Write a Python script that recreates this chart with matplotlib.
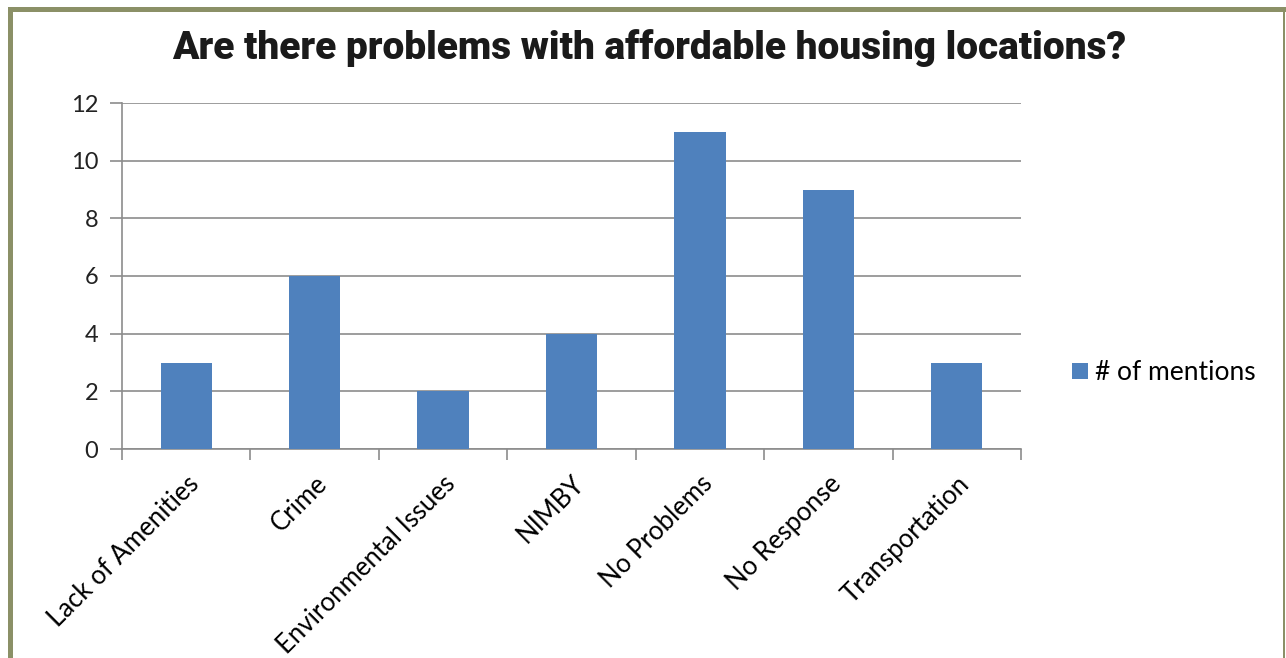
import matplotlib.pyplot as plt
from matplotlib.patches import Rectangle

categories = ["Lack of Amenities", "Crime", "Environmental Issues", "NIMBY",
              "No Problems", "No Response", "Transportation"]
mentions = [3, 6, 2, 4, 11, 9, 3]
yticks = [0, 2, 4, 6, 8, 10, 12]
series_name = "# of mentions"

bar_color = "#4f81bd"
grid_color = "#8c8c8c"
frame_color = "#8b9067"
label_font = ["Lato", "DejaVu Sans"]

fig = plt.figure(figsize=(12.86, 6.58), dpi=100)
fig.patch.set_facecolor("white")

# olive frame around the panel (left, top, right edges)
fig.add_artist(Rectangle((8 / 1286, 0), 5 / 1286, (658 - 8) / 658,
                         transform=fig.transFigure, color=frame_color, lw=0))
fig.add_artist(Rectangle((8 / 1286, (658 - 12) / 658), (1286 - 8) / 1286, 5 / 658,
                         transform=fig.transFigure, color=frame_color, lw=0))
fig.add_artist(Rectangle((1283 / 1286, 0), 2 / 1286, (658 - 8) / 658,
                         transform=fig.transFigure, color=frame_color, lw=0))

ax = fig.add_axes([122 / 1286, (658 - 449) / 658, (1021 - 122) / 1286, (449 - 103) / 658])

x = range(len(categories))
ax.bar(x, mentions, width=0.4, color=bar_color, zorder=3, label=series_name)
ax.set_xlim(-0.5, len(categories) - 0.5)
ax.set_ylim(0, 12)
ax.set_yticks(yticks)
ax.set_yticklabels([str(v) for v in yticks], fontsize=17, family=label_font,
                   color="#222222")
ax.yaxis.grid(True, color=grid_color, lw=1.2, zorder=0)

for s in ["top", "right"]:
    ax.spines[s].set_visible(False)
for s in ["left", "bottom"]:
    ax.spines[s].set_color(grid_color)
    ax.spines[s].set_linewidth(1.2)

ax.tick_params(axis="y", length=9, width=1.2, color=grid_color, pad=8)
# category boundaries carry the x tick marks
ax.set_xticks([i - 0.5 for i in range(len(categories) + 1)], minor=False)
ax.set_xticklabels([])
ax.tick_params(axis="x", length=8, width=1.2, color=grid_color)
ax.set_xticks(list(x), minor=True)
ax.set_xticklabels(categories, minor=True, rotation=45, ha="right",
                   rotation_mode="anchor", fontsize=18.5, family=label_font)
ax.tick_params(axis="x", which="minor", length=0, pad=16)

leg = ax.legend(loc="center left", bbox_to_anchor=(1.03, 0.22), frameon=False,
                prop={"family": label_font, "size": 19}, handlelength=0.6,
                handleheight=0.6, handletextpad=0.3)

fig.text(649 / 1286, (658 - 48) / 658, "Are there problems with affordable housing locations?",
         ha="center", va="center", fontsize=28, fontweight=900,
         family=["Roboto", "DejaVu Sans"], color="#1a1a1a")

fig.savefig("out.png", dpi=100, facecolor="white")
